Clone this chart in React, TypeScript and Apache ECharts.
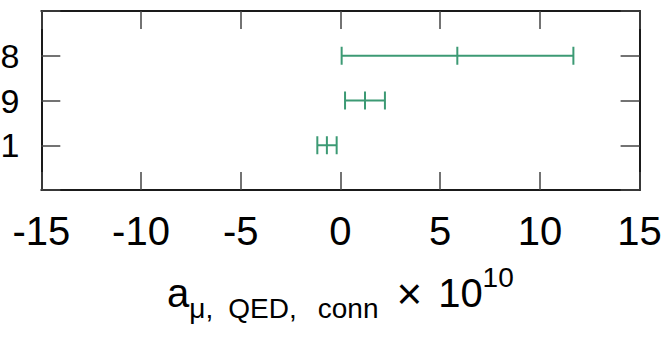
import React, { useEffect, useRef } from "react";
import * as echarts from "echarts";

const entryLabels = ["8", "9", "1"]; // top to bottom (visible part of the labels)
const centers = [5.86, 1.23, -0.68];
const lows = [0.06, 0.23, -1.16];
const highs = [11.68, 2.23, -0.19];
const xTicks = [-15, -10, -5, 0, 5, 10, 15];

const FONT = "'Liberation Sans', Arial, Helvetica, sans-serif";
const GREEN = "#3c9a74";

export default function App() {
  const ref = useRef<HTMLDivElement>(null);
  useEffect(() => {
    if (!ref.current) return;
    const chart = echarts.init(ref.current, null, { renderer: "svg" });
    const n = entryLabels.length;
    const data = entryLabels.map((_, i) => [lows[i], centers[i], highs[i], n - i]);
    const xMin = xTicks[0];
    const xMax = xTicks[xTicks.length - 1];
    const tickStyle = { color: "#444", width: 1.5 };
    const boxLine = { show: true, onZero: false, lineStyle: { color: "#1a1a1a", width: 2 } };
    const base = { fontFamily: FONT, color: "#000" };
    chart.setOption({
      animation: false,
      backgroundColor: "#ffffff",
      grid: {
        left: 41.3,
        right: 27.4,
        top: 11,
        bottom: 148,
        containLabel: false,
        outerBoundsMode: "none",
      },
      xAxis: [
        {
          type: "value",
          min: xMin,
          max: xMax,
          interval: 5,
          position: "bottom",
          axisLine: boxLine,
          axisTick: { show: true, inside: true, length: 18, lineStyle: tickStyle },
          splitLine: { show: false },
          axisLabel: {
            fontSize: 40,
            color: "#000",
            fontFamily: FONT,
            margin: 21,
            showMinLabel: true,
            showMaxLabel: true,
            hideOverlap: false,
          },
          name: "{a|a}{s1|μ,}{s2|QED,}{s3|conn}{x|×}{m|10}{p|10}",
          nameLocation: "middle",
          nameGap: 70,
          nameTextStyle: {
            ...base,
            rich: {
              a: { ...base, fontSize: 40, lineHeight: 66, verticalAlign: "middle" },
              s1: { ...base, fontSize: 28, lineHeight: 28, verticalAlign: "bottom", padding: [0, 0, 4, 0] },
              s2: { ...base, fontSize: 28, lineHeight: 28, verticalAlign: "bottom", padding: [0, 0, 4, 15] },
              s3: { ...base, fontSize: 28, lineHeight: 28, verticalAlign: "bottom", padding: [0, 0, 4, 21] },
              x: { ...base, fontSize: 44, lineHeight: 66, verticalAlign: "middle", padding: [0, 0, 0, 18] },
              m: { ...base, fontSize: 40, lineHeight: 66, verticalAlign: "middle", padding: [0, 0, 0, 16] },
              p: { ...base, fontSize: 28, lineHeight: 28, verticalAlign: "top", padding: [3, 0, 0, 0] },
            },
          },
        },
        {
          type: "value",
          min: xMin,
          max: xMax,
          interval: 5,
          position: "top",
          axisLine: boxLine,
          axisTick: { show: true, inside: true, length: 18, lineStyle: tickStyle },
          splitLine: { show: false },
          axisLabel: { show: false },
        },
      ],
      yAxis: [
        {
          type: "value",
          min: 0,
          max: n + 1,
          interval: 1,
          position: "left",
          axisLine: boxLine,
          axisTick: { show: true, inside: true, length: 19, lineStyle: tickStyle },
          splitLine: { show: false },
          axisLabel: {
            fontSize: 34,
            color: "#000",
            fontFamily: FONT,
            margin: 22,
            formatter: (v: number) => (v >= 1 && v <= n ? entryLabels[n - v] : ""),
          },
        },
        {
          type: "value",
          min: 0,
          max: n + 1,
          interval: 1,
          position: "right",
          axisLine: boxLine,
          axisTick: { show: true, inside: true, length: 19, lineStyle: tickStyle },
          splitLine: { show: false },
          axisLabel: { show: false },
        },
      ],
      series: [
        {
          type: "custom",
          xAxisIndex: 0,
          yAxisIndex: 0,
          data,
          clip: false,
          renderItem: (params: any, api: any) => {
            const lo = api.coord([api.value(0), api.value(3)]);
            const mid = api.coord([api.value(1), api.value(3)]);
            const hi = api.coord([api.value(2), api.value(3)]);
            const h = 9;
            const style = { stroke: GREEN, lineWidth: 2 };
            return {
              type: "group",
              children: [
                { type: "line", shape: { x1: lo[0], y1: lo[1], x2: hi[0], y2: hi[1] }, style },
                { type: "line", shape: { x1: lo[0], y1: lo[1] - h, x2: lo[0], y2: lo[1] + h }, style },
                { type: "line", shape: { x1: mid[0], y1: mid[1] - h, x2: mid[0], y2: mid[1] + h }, style },
                { type: "line", shape: { x1: hi[0], y1: hi[1] - h, x2: hi[0], y2: hi[1] + h }, style },
              ],
            };
          },
        },
      ],
    });
    return () => chart.dispose();
  }, []);
  return (
    <div
      ref={ref}
      style={{ position: "absolute", left: 0, top: 0, width: 667, height: 338 }}
    />
  );
}
